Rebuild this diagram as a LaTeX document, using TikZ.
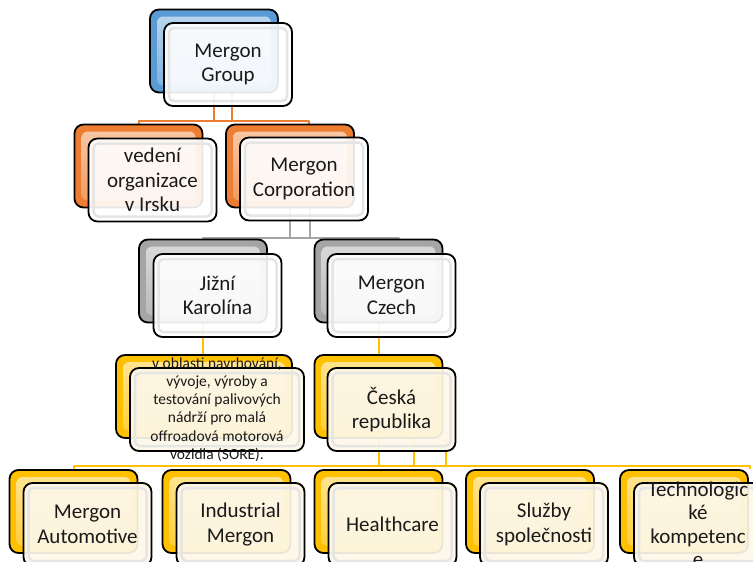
\documentclass[tikz,border=0pt]{standalone}
\usepackage{fontspec}
\setmainfont{Carlito}
\usetikzlibrary{calc}
\pgfdeclarelayer{background}
\pgfsetlayers{background,main}
\definecolor{cblue}{HTML}{5B9BD5}
\definecolor{corange}{HTML}{ED7D31}
\definecolor{cgrey}{HTML}{A5A5A5}
\definecolor{cyellow}{HTML}{FFC000}
\definecolor{ccream}{HTML}{FDF7E8}
\definecolor{ctxt}{HTML}{1A1A1A}
\begin{document}
\begin{tikzpicture}[x=1pt,y=-1pt,
  box/.style={rectangle, rounded corners=9pt, draw=black, line width=1.8pt,
    minimum width=128pt, minimum height=83pt, inner sep=2pt},
  backbox/.style={box, fill=#1,
    path picture={\fill[rounded corners=6pt, top color=#1!40!white, bottom color=#1!80!white]
      ([shift={(7pt,-7pt)}]path picture bounding box.north west) rectangle
      ([shift={(-7pt,7pt)}]path picture bounding box.south east);}},
  frontbox/.style={box, fill=white, fill opacity=0.9, text opacity=1,
    text=ctxt, align=center, font=\fontsize{21}{24.5}\selectfont,
    path picture={\draw[black!10, line width=2.5pt, rounded corners=5pt]
      ([shift={(5pt,-5pt)}]path picture bounding box.north west) rectangle
      ([shift={(-5pt,5pt)}]path picture bounding box.south east);}},
  frontcream/.style={frontbox, fill=ccream, fill opacity=0.93},
  lbl/.style={text=ctxt, align=center, inner sep=0pt},
  conn/.style={line width=2pt, line join=round},
  oline/.style={conn, draw=corange},
  gline/.style={conn, draw=cgrey},
  yline/.style={conn, draw=cyellow}]
\useasboundingbox (0,0) rectangle (753,562);

% back boxes
\node[backbox=cblue] (b0) at (214,51) {};
\node[backbox=corange] (b1L) at (138.5,166) {};
\node[backbox=corange] (b1R) at (290,166) {};
\node[backbox=cgrey] (b2L) at (203,281) {};
\node[backbox=cgrey] (b2R) at (378.5,281) {};
\node[backbox=cyellow, minimum width=176pt] (b3L) at (204,396.5) {};
\node[backbox=cyellow] (b3R) at (378.5,396.5) {};
\node[backbox=cyellow] (b4a) at (73.5,511.5) {};
\node[backbox=cyellow] (b4b) at (226.5,511.5) {};
\node[backbox=cyellow] (b4c) at (378.5,511.5) {};
\node[backbox=cyellow] (b4d) at (530,511.5) {};
\node[backbox=cyellow] (b4e) at (684,511.5) {};

% front boxes
\node[frontbox] (f0) at (228,64.5) {Mergon\\Group};
\node[frontbox] (f1L) at (152.5,180) {vedení\\organizace\\v Irsku};
\node[frontbox] (f1R) at (304,179) {Mergon\\Corporation};
\node[frontbox] (f2L) at (217.5,295.5) {Jižní\\Karolína};
\node[frontbox] (f2R) at (391.5,295.5) {Mergon\\Czech};
\node[frontcream, minimum width=174pt] (f3L) at (217,409.5) {};
\node[lbl, font=\fontsize{15.5}{18.2}\selectfont] (t3L) at (f3L.center)
  {v oblasti navrhování,\\vývoje, výroby a\\testování palivových\\nádrží pro malá\\offroadová motorová\\vozidla (SORE).};
\node[frontcream] (f3R) at (391.5,409.5) {Česká\\republika};
\node[frontcream] (f4a) at (87.5,524.5) {Mergon\\Automotive};
\node[frontcream] (f4b) at (240.5,524.5) {Industrial\\Mergon};
\node[frontcream] (f4c) at (392.5,524.5) {Healthcare};
\node[frontcream] (f4d) at (544,524.5) {Služby\\společnosti};
\node[frontcream] (f4e) at (698,524.5) {};
\node[lbl, font=\fontsize{21}{23.5}\selectfont] (t4e) at (f4e.center)
  {Technologic\\ké\\kompetenc\\e};

\begin{pgfonlayer}{background}
\coordinate (bus1) at (0,121);
\coordinate (bus2) at (0,238);
\coordinate (bus4) at (0,466);
% orange
\draw[oline] (b0.south) -- (b0.south |- bus1);
\draw[oline] ([xshift=4pt]f0.south |- b0.south) -- ([xshift=4pt]f0.south |- bus1);
\draw[oline] (b1L.north) -- (b1L.north |- bus1) -- ([xshift=5pt]f1R.north |- bus1)
  -- ([xshift=5pt]f1R.north |- b1R.north);
% grey
\draw[gline] (b1R.south) -- (b1R.south |- bus2);
\draw[gline] ([xshift=6pt]f1R.south |- b1R.south) -- ([xshift=6pt]f1R.south |- bus2);
\draw[gline] (b2L.north) -- (b2L.north |- bus2) -- ([xshift=7.5pt]f2R.north |- bus2)
  -- ([xshift=7.5pt]f2R.north |- b2R.north);
% yellow
\draw[yline] (b2L.south) -- (b2L.south |- b3L.north);
\draw[yline] (b2R.south) -- (b2R.south |- b3R.north);
\draw[yline] (b3R.south) -- (b3R.south |- bus4);
\draw[yline] ([xshift=22.5pt]f3R.south |- b3R.south) -- ([xshift=22.5pt]f3R.south |- bus4);
\draw[yline] ([xshift=54.5pt]f3R.south |- b3R.south) -- ([xshift=54.5pt]f3R.south |- bus4);
\draw[yline] (b4a.north) -- (b4a.north |- bus4) -- ([xshift=52pt]f4e.north |- bus4)
  -- ([xshift=52pt]f4e.north |- b4e.north);
\end{pgfonlayer}
\end{tikzpicture}
\end{document}
